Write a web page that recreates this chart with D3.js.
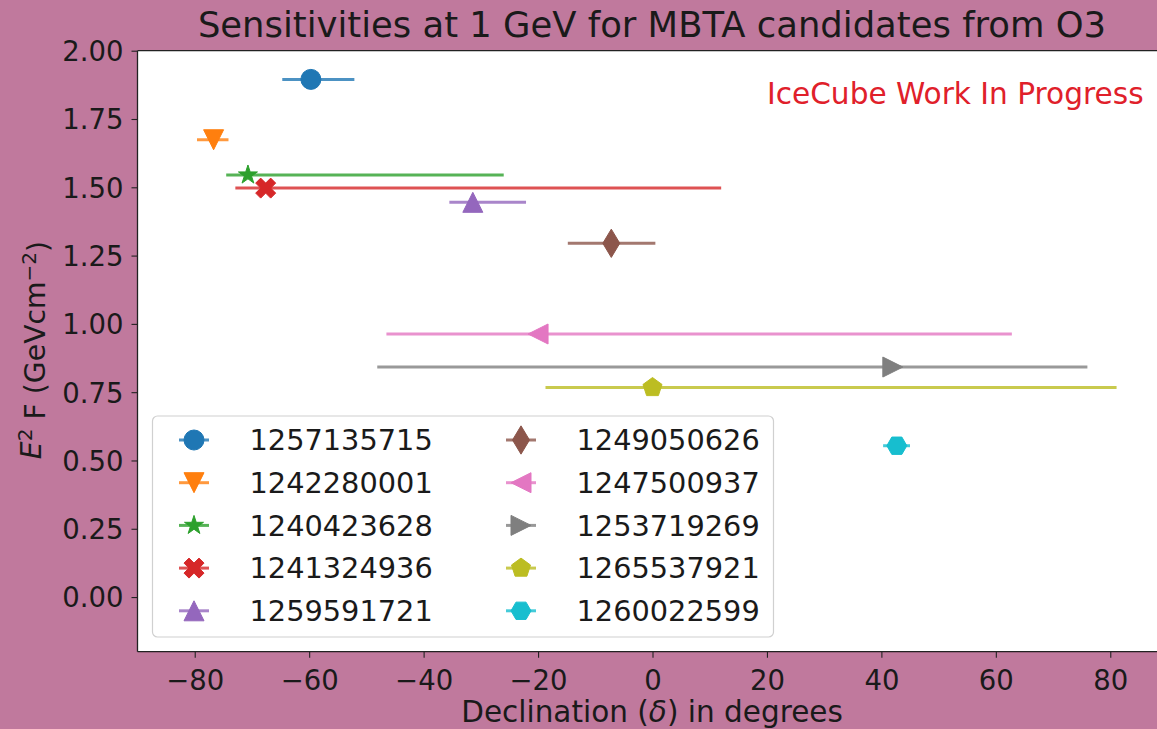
<!DOCTYPE html>
<html><head><meta charset="utf-8">
<script src="https://cdn.jsdelivr.net/npm/d3@7"></script>
<style>
html,body{margin:0;padding:0;background:#c0799d;overflow:hidden;}
svg{display:block;font-family:"DejaVu Sans",sans-serif;}
</style>
</head><body>
<svg id="chart" width="1157" height="729"></svg>
<script>
// ---- data ----
const candidates = ["1257135715","1242280001","1240423628","1241324936","1259591721",
                    "1249050626","1247500937","1253719269","1265537921","1260022599"];
const declination = [-59.7, -76.7, -70.7, -67.6, -31.4, -7.2, -20.0, 42.0, 0.0, 42.7];
const sensitivity = [1.895, 1.674, 1.545, 1.497, 1.445, 1.295, 0.963, 0.842, 0.767, 0.554];
const decLow  = [-64.7, -79.6, -74.5, -72.9, -35.5, -14.8, -46.5, -48.1, -18.7, 40.3];
const decHigh = [-52.1, -74.1, -26.0, 12.0, -22.1, 0.5, 62.8, 76.0, 81.1, 45.0];
const markers = ["o","v","*","X","^","d","<",">","p","H"];
const colors = ["#1f77b4","#ff7f0e","#2ca02c","#d62728","#9467bd",
                "#8c564b","#e377c2","#7f7f7f","#bcbd22","#17becf"];
const xTicks = [-80,-60,-40,-20,0,20,40,60,80];
const yTicks = [0,0.25,0.5,0.75,1.0,1.25,1.5,1.75,2.0];
const xDomain = [-90, 90];
const yDomain = [-0.2, 2.0];
const titleText = "Sensitivities at 1 GeV for MBTA candidates from O3";
const watermark = "IceCube Work In Progress";

// ---- layout ----
const svg = d3.select("#chart");
const plot = {left:137.5, right:1167.5, top:50.7, bottom:651.7};
const x = d3.scaleLinear().domain(xDomain).range([plot.left, plot.right]);
const y = d3.scaleLinear().domain(yDomain).range([plot.bottom, plot.top]);
const MS = 20;

// marker geometry in unit coords (matplotlib-like), y down
function poly(n, r, rot){ const p=[]; for(let i=0;i<n;i++){const a=-Math.PI/2+rot+i*2*Math.PI/n; p.push([r*Math.cos(a), r*Math.sin(a)]);} return p; }
function star(){ const p=[]; for(let i=0;i<10;i++){const r=(i%2?0.5*0.381966:0.5); const a=-Math.PI/2+i*Math.PI/5; p.push([r*Math.cos(a), r*Math.sin(a)]);} return p; }
const shapes = {
  "v": [[0,0.5],[-0.5,-0.5],[0.5,-0.5]],
  "^": [[0,-0.5],[-0.5,0.5],[0.5,0.5]],
  "<": [[-0.5,0],[0.5,-0.5],[0.5,0.5]],
  ">": [[0.5,0],[-0.5,-0.5],[-0.5,0.5]],
  "*": star(),
  "X": [[-1,-2],[0,-1],[1,-2],[2,-1],[1,0],[2,1],[1,2],[0,1],[-1,2],[-2,1],[-1,0],[-2,-1]].map(d=>[d[0]*0.25,d[1]*0.25]),
  "d": [[0,-0.7071],[0.4243,0],[0,0.7071],[-0.4243,0]],
  "p": poly(5,0.5,0),
  "H": poly(6,0.5,Math.PI/6)
};
function drawMarker(g, m, cx, cy, color){
  if(m==="o"){
    g.append("circle").attr("cx",cx).attr("cy",cy).attr("r",MS/2)
      .attr("fill",color).attr("stroke",color).attr("stroke-width",1);
  } else {
    const pts = shapes[m].map(d=>[cx+d[0]*MS, cy+d[1]*MS]);
    g.append("path").attr("d","M"+pts.map(p=>p.join(",")).join("L")+"Z")
      .attr("fill",color).attr("stroke",color).attr("stroke-width",1).attr("stroke-linejoin","miter");
  }
}

// plot background
svg.append("rect").attr("x",plot.left).attr("y",plot.top)
  .attr("width",plot.right-plot.left).attr("height",plot.bottom-plot.top).attr("fill","#ffffff");

// axes
const tickColor = "#222";
const xAxis = svg.append("g").attr("transform",`translate(0,${plot.bottom})`)
  .call(d3.axisBottom(x).tickValues(xTicks).tickSize(6).tickPadding(6)
        .tickFormat(d=>d<0?"\u2212"+Math.abs(d):String(d)));
const yAxis = svg.append("g").attr("transform",`translate(${plot.left},0)`)
  .call(d3.axisLeft(y).tickValues(yTicks).tickSize(6).tickPadding(8)
        .tickFormat(d3.format(".2f")));
[xAxis,yAxis].forEach(a=>{
  a.select(".domain").remove();
  a.selectAll("line").attr("stroke",tickColor).attr("stroke-width",1.1);
  a.selectAll("text").attr("fill","#1a1a1a").style("font-size","27.5px")
   .style("font-family","DejaVu Sans");
});
xAxis.selectAll("text").attr("dy","0.95em");
yAxis.selectAll("text").attr("dy","0.36em");

// spines
const sp = svg.append("g").attr("stroke","#222").attr("stroke-width",1.3).attr("fill","none");
sp.append("line").attr("x1",plot.left).attr("x2",plot.left).attr("y1",plot.top).attr("y2",plot.bottom);
sp.append("line").attr("x1",plot.left).attr("x2",plot.right).attr("y1",plot.bottom).attr("y2",plot.bottom);
sp.append("line").attr("x1",plot.left).attr("x2",plot.right).attr("y1",plot.top).attr("y2",plot.top);
sp.append("line").attr("x1",plot.right).attr("x2",plot.right).attr("y1",plot.top).attr("y2",plot.bottom);

// data
const dataG = svg.append("g");
candidates.forEach((c,i)=>{
  const g = dataG.append("g");
  g.append("line").attr("x1",x(decLow[i])).attr("x2",x(decHigh[i]))
    .attr("y1",y(sensitivity[i])).attr("y2",y(sensitivity[i]))
    .attr("stroke",colors[i]).attr("stroke-width",3).attr("stroke-opacity",0.8);
  drawMarker(g, markers[i], x(declination[i]), y(sensitivity[i]), colors[i]);
});

// legend
const leg = svg.append("g");
leg.append("rect").attr("x",152.5).attr("y",416).attr("width",621).attr("height",221)
  .attr("rx",5).attr("fill","#ffffff").attr("fill-opacity",0.85).attr("stroke","#d0d0d0").attr("stroke-width",1.2);
const colX = [194, 521], rowY0 = 440, rowDy = 42.7;
candidates.forEach((c,i)=>{
  const col = Math.floor(i/5), row = i%5;
  const hx = colX[col], hy = rowY0 + row*rowDy;
  const g = leg.append("g");
  g.append("line").attr("x1",hx-15).attr("x2",hx+15).attr("y1",hy).attr("y2",hy)
    .attr("stroke",colors[i]).attr("stroke-width",3).attr("stroke-opacity",0.8);
  drawMarker(g, markers[i], hx, hy, colors[i]);
  g.append("text").attr("x",hx+55.5).attr("y",hy).attr("dy","0.36em")
    .attr("fill","#1a1a1a").style("font-size","28.8px").text(c);
});

// title
svg.append("text").attr("x",(plot.left+plot.right)/2 - 0.5).attr("y",37.3)
  .attr("text-anchor","middle").attr("fill","#1a1a1a").style("font-size","35.4px").text(titleText);

// watermark
svg.append("text").attr("x",767).attr("y",104.3).attr("fill","#e0202a")
  .style("font-size","29.6px").text(watermark);

// axis labels
const yl = svg.append("text").attr("transform",`translate(41,350) rotate(-90)`)
  .attr("text-anchor","middle").attr("fill","#1a1a1a").style("font-size","28.3px");
yl.append("tspan").style("font-style","italic").text("E");
yl.append("tspan").attr("dy","-0.45em").style("font-size","20px").text("2");
yl.append("tspan").attr("dy","0.45em").text("\u00a0F (GeVcm");
yl.append("tspan").attr("dy","-0.45em").style("font-size","20px").text("\u22122");
yl.append("tspan").attr("dy","0.45em").text(")");

const xl = svg.append("text").attr("x",(plot.left+plot.right)/2 - 0.5).attr("y",722)
  .attr("text-anchor","middle").attr("fill","#1a1a1a").style("font-size","29.5px");
xl.append("tspan").text("Declination (");
xl.append("tspan").style("font-style","italic").text("\u03b4");
xl.append("tspan").text(") in degrees");
</script>
</body></html>
